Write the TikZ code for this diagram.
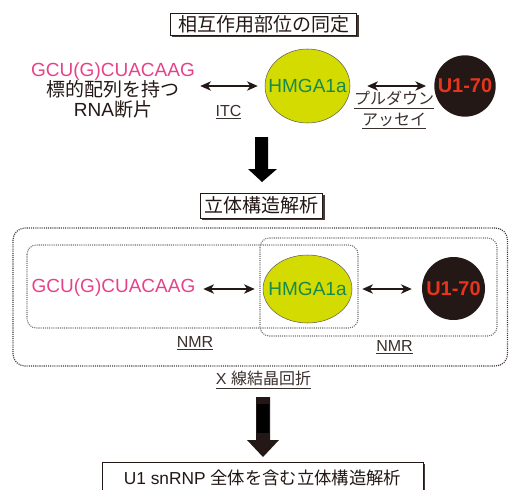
\documentclass[tikz,border=0pt]{standalone}
\usepackage{fontspec}
\setmainfont{Liberation Sans}
\newfontfamily\jp{Noto Sans CJK JP}
\usetikzlibrary{arrows.meta,shapes.geometric,shadows}
\definecolor{ink}{HTML}{231815}
\definecolor{pinkseq}{HTML}{E6428A}
\definecolor{hmfill}{HTML}{D4DB00}
\definecolor{hmtext}{HTML}{168A4E}
\definecolor{ured}{HTML}{E8341C}
\begin{document}
\begin{tikzpicture}[x=0.75pt,y=-0.75pt,
 titlebox/.style={draw=ink, line width=0.6pt, fill=white, inner sep=0pt, text=ink,
   font=\jp\fontsize{14.25}{16}\selectfont,
   drop shadow={shadow xshift=1.3pt, shadow yshift=-1.3pt, fill=ink!85, opacity=1}},
 hm/.style={ellipse, draw=ink!70, line width=0.4pt, fill=hmfill, text=hmtext, inner ysep=0pt,
   font=\fontsize{14.25}{16}\selectfont},
 uone/.style={circle, fill=ink, text=ured, inner sep=0pt, font=\bfseries\fontsize{15}{16}\selectfont},
 seq/.style={text=pinkseq, inner sep=0pt, font=\fontsize{14.25}{16}\selectfont},
 link/.style={{Stealth[length=8pt,width=7pt,inset=2.3pt]}-{Stealth[length=8pt,width=7pt,inset=2.3pt]},
   draw=ink, line width=1.1pt},
 outerdot/.style={draw=ink!85, line width=0.9pt, dash pattern=on 0.8pt off 0.8pt, rounded corners=9pt},
 innerdot/.style={draw=black!55, line width=0.8pt, dash pattern=on 0.8pt off 0.8pt, rounded corners=7pt},
 lab/.style={inner sep=0pt, font=\fontsize{12}{15}\selectfont, text=ink!90}
]
\path[use as bounding box] (0,0) rectangle (509,489);
\clip (0,0) rectangle (509,489);

% --- section 1
\node[titlebox, minimum width=140pt, minimum height=16.5pt] (t1) at (263.5,24) {相互作用部位の同定};
\node[align=center, inner sep=0pt, text=ink, font=\fontsize{14.25}{15}\selectfont] (rna) at (113,90)
  {\textcolor{pinkseq}{GCU(G)CUACAAG}\\ {\jp 標的配列を持つ}\\ RNA{\jp 断片}};
\node[hm, inner xsep=-6.8pt, minimum width=63.75pt, minimum height=55.5pt] (hm1) at (307.5,86) {HMGA1a};
\node[uone, minimum size=46pt] (u1) at (465,86) {U1-70};
\draw[link, shorten <=3.9pt, shorten >=5.25pt] (rna.east |- hm1.west) -- (hm1.west);
\draw[link, shorten <=12.75pt, shorten >=6pt] (hm1.east) -- (hm1.east -| u1.west);
\node[lab] (itc) at (228.5,112) {\underline{ITC}};
\node[lab] (pd1) at (394,100) {\jp\underline{プルダウン}};
\node[lab] (pd2) at (394,121) {\jp\underline{アッセイ}};

% --- big arrow 1
\fill[black] (255,137) -- (268,137) -- (268,169) -- (277,169) -- (262,182) -- (248,169) -- (255,169) -- cycle;

% --- section 2
\node[titlebox, minimum width=92pt, minimum height=18.75pt] (t2) at (261.5,205.5) {立体構造解析};
\draw[outerdot] (13,228) rectangle (507.5,366);
\draw[innerdot] (27,245) rectangle (358,328);
\draw[innerdot] (260,238) rectangle (497,336);
\node[seq] (seq2) at (113.5,288) {GCU(G)CUACAAG};
\node[hm, inner xsep=-5.7pt, minimum width=66.75pt, minimum height=51pt] (hm2) at (307.5,289) {HMGA1a};
\node[uone, minimum size=47.25pt] (u2) at (453.5,288.5) {U1-70};
\draw[link, shorten <=5.8pt, shorten >=6pt] (seq2.east |- hm2.west) -- (hm2.west);
\draw[link, shorten <=7.5pt, shorten >=7.5pt] (hm2.east) -- (hm2.east -| u2.west);
\node[lab] (nmr1) at (195,343) {\underline{NMR}};
\node[lab] (nmr2) at (394.5,347) {\underline{NMR}};
\node[lab] (xray) at (263.5,380) {\underline{X {\jp 線結晶回折}}};

% --- big arrow 2
\fill[ink] (256,397) -- (270,397) -- (270,440) -- (279,440) -- (263,457) -- (247,440) -- (256,440) -- cycle;
\fill[black] (257,404) rectangle (269,433);

% --- final box
\node[titlebox, minimum width=240.75pt, minimum height=24pt, font=\fontsize{13}{16}\selectfont] (t3) at (262.5,478)
  {U1 snRNP {\jp 全体を含む立体構造解析}};
\end{tikzpicture}
\end{document}
